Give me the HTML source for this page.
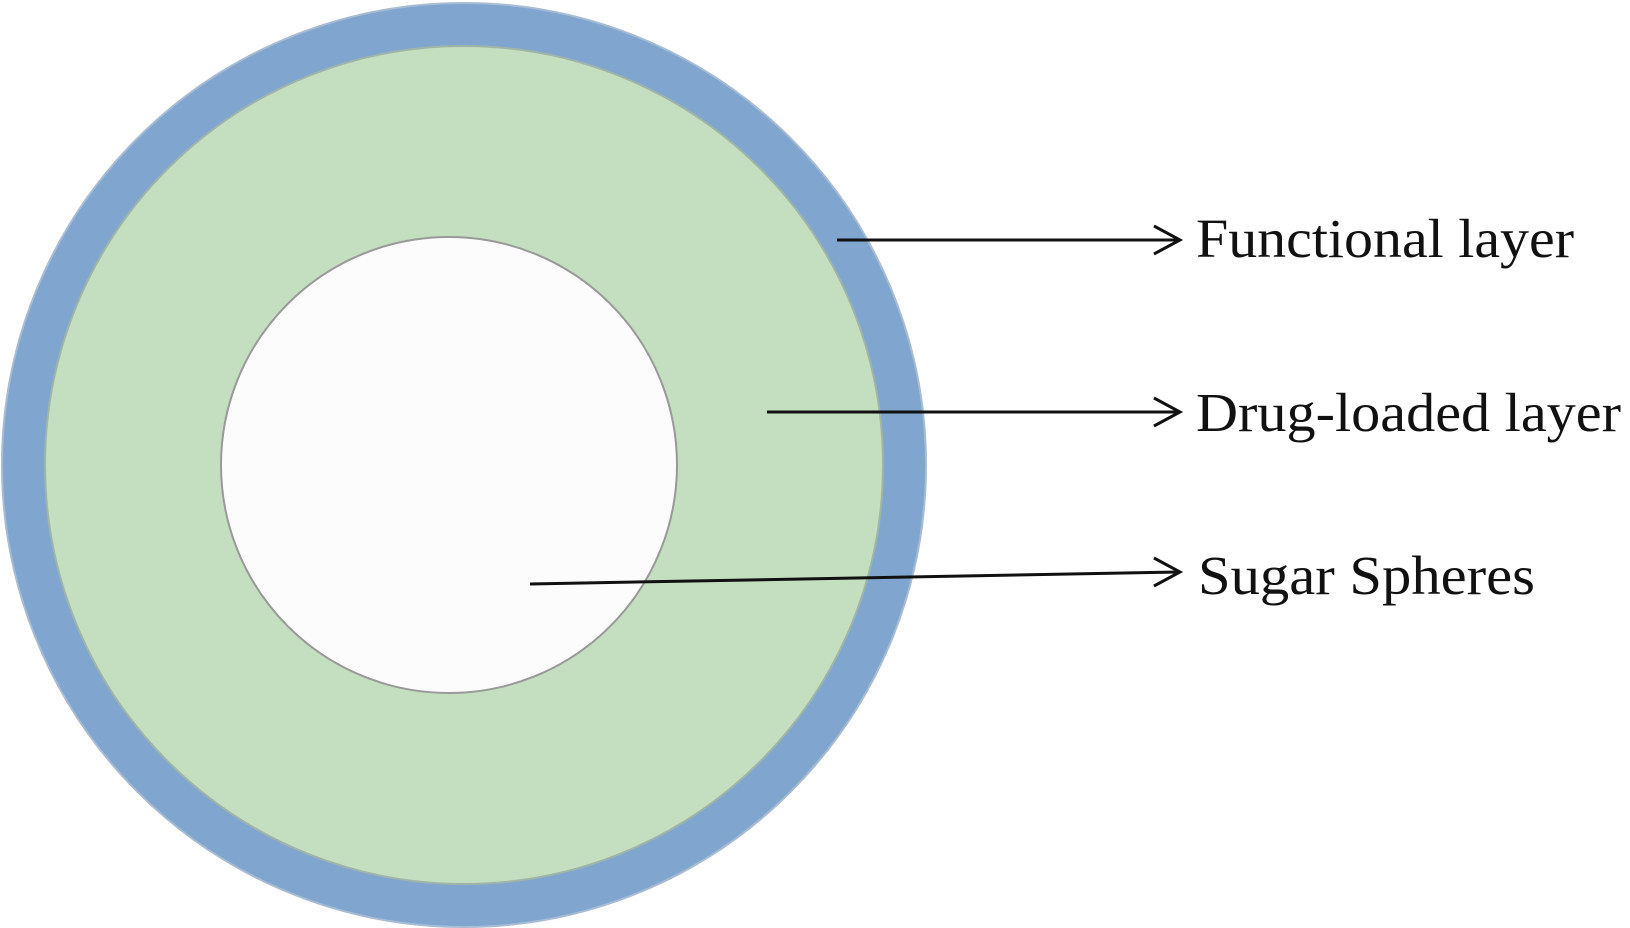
<!DOCTYPE html>
<html><head><style>html,body{margin:0;padding:0;background:#fff;}svg{display:block}</style></head>
<body>
<svg width="1630" height="928" viewBox="0 0 1630 928" xmlns="http://www.w3.org/2000/svg">
<circle cx="464" cy="465" r="462" fill="#80a6cf" stroke="#a8bcd4" stroke-width="2"/>
<circle cx="464" cy="465" r="419" fill="#c4dec0" stroke="#9fb5a8" stroke-width="2"/>
<circle cx="449" cy="465" r="228" fill="#fdfcfc" stroke="#999" stroke-width="2"/>
<g stroke="#111" stroke-width="3" fill="none">
<line x1="837" y1="240" x2="1180" y2="240"/>
<polyline points="1154,226 1180,240 1154,254"/>
<line x1="767" y1="412" x2="1180" y2="412"/>
<polyline points="1154,398 1180,412 1154,426"/>
<line x1="530" y1="584" x2="1180" y2="572"/>
<polyline points="1154,558 1180,572 1154,586"/>
</g>
<g font-family="Liberation Serif, serif" font-size="55" fill="#111">
<text x="1196" y="257" textLength="378" lengthAdjust="spacingAndGlyphs">Functional layer</text>
<text x="1196" y="431" textLength="425" lengthAdjust="spacingAndGlyphs">Drug-loaded layer</text>
<text x="1198" y="594" textLength="337" lengthAdjust="spacingAndGlyphs">Sugar Spheres</text>
</g>
</svg>
</body></html>
